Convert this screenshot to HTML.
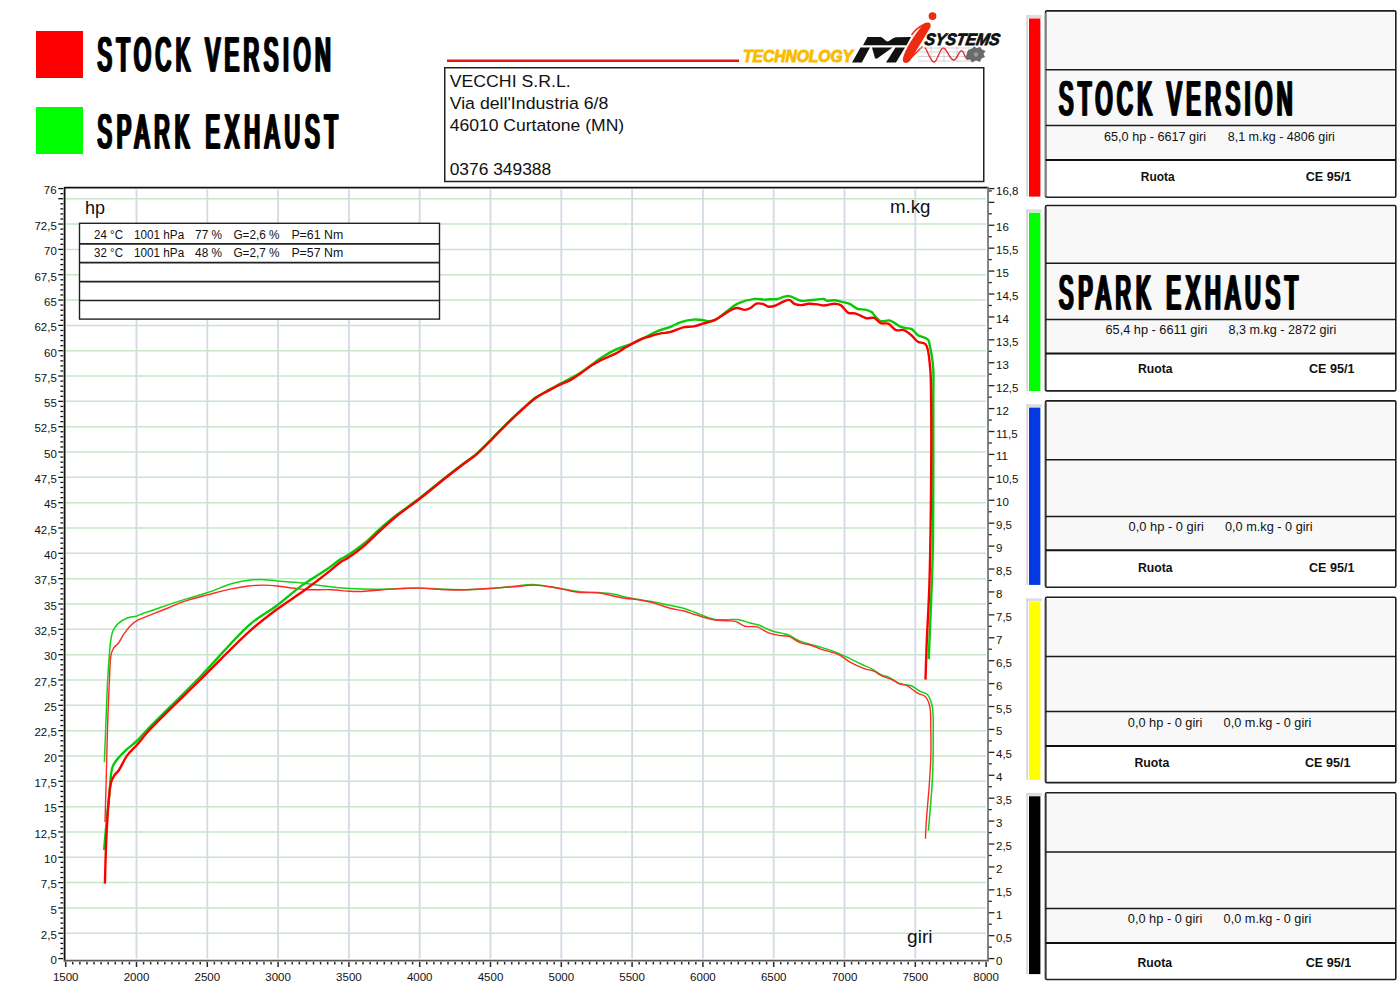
<!DOCTYPE html>
<html><head><meta charset="utf-8"><title>Dyno chart</title>
<style>
html,body{margin:0;padding:0;background:#fff;width:1400px;height:1000px;overflow:hidden}
svg{display:block}
text{font-family:"Liberation Sans",sans-serif}
</style></head><body>
<svg width="1400" height="1000" viewBox="0 0 1400 1000">
<rect x="0" y="0" width="1400" height="1000" fill="#fff"/>

<rect x="36" y="31" width="47" height="47" fill="#fe0000"/>
<rect x="36" y="107" width="47" height="47" fill="#00ff00"/>
<text transform="translate(96.40,71.45) scale(0.44,1)" font-size="48.8" stroke="#000" stroke-width="1.1" vector-effect="non-scaling-stroke" textLength="530.0" lengthAdjust="spacing" fill="#000">STOCK VERSION</text><text transform="translate(97.50,71.45) scale(0.44,1)" font-size="48.8" stroke="#000" stroke-width="1.1" vector-effect="non-scaling-stroke" textLength="530.0" lengthAdjust="spacing" fill="#000">STOCK VERSION</text><text transform="translate(98.60,71.45) scale(0.44,1)" font-size="48.8" stroke="#000" stroke-width="1.1" vector-effect="non-scaling-stroke" textLength="530.0" lengthAdjust="spacing" fill="#000">STOCK VERSION</text>
<text transform="translate(96.40,147.95) scale(0.44,1)" font-size="48.8" stroke="#000" stroke-width="1.1" vector-effect="non-scaling-stroke" textLength="545.9" lengthAdjust="spacing" fill="#000">SPARK EXHAUST</text><text transform="translate(97.50,147.95) scale(0.44,1)" font-size="48.8" stroke="#000" stroke-width="1.1" vector-effect="non-scaling-stroke" textLength="545.9" lengthAdjust="spacing" fill="#000">SPARK EXHAUST</text><text transform="translate(98.60,147.95) scale(0.44,1)" font-size="48.8" stroke="#000" stroke-width="1.1" vector-effect="non-scaling-stroke" textLength="545.9" lengthAdjust="spacing" fill="#000">SPARK EXHAUST</text>
<rect x="447" y="59.5" width="292" height="2.5" fill="#ee1111"/>
<rect x="444.75" y="67.75" width="539" height="113.75" fill="#fff" stroke="#222" stroke-width="1.5"/>
<text x="449.7" y="87" font-size="17.4" textLength="121" lengthAdjust="spacingAndGlyphs" fill="#111">VECCHI S.R.L.</text>
<text x="449.7" y="109" font-size="17.4" textLength="158.7" lengthAdjust="spacingAndGlyphs" fill="#111">Via dell'Industria 6/8</text>
<text x="449.7" y="131" font-size="17.4" textLength="174.5" lengthAdjust="spacingAndGlyphs" fill="#111">46010 Curtatone (MN)</text>
<text x="449.7" y="175" font-size="17.4" textLength="101.5" lengthAdjust="spacingAndGlyphs" fill="#111">0376 349388</text>
<g>
<text x="743" y="61.8" font-size="16" font-weight="bold" font-style="italic" fill="#f7bd00" stroke="#f7bd00" stroke-width="1" textLength="110" lengthAdjust="spacingAndGlyphs">TECHNOLOGY</text>
<path d="M867.5 37 L880.5 37 C883 37 885.5 41.5 887.5 41.5 C890 41.5 893 37.3 896 37.3 L911 37 L906.5 45.3 L863 45.3 Z" fill="#111"/>
<path d="M860.5 47.6 L870 47.6 L861.8 62.5 L852 62.5 Z" fill="#111"/>
<path d="M872 47.6 L892.5 47.6 L877.5 58.2 C876.5 59 875 58.8 874.8 57.5 Z" fill="#111"/>
<path d="M895.5 47.6 L905 47.6 L896 62.5 L886 62.5 Z" fill="#111"/>
<path d="M924.5 23.2 C928.5 21.2 932 23 930.3 27.5 L911 59.2 C908.8 63.8 903.2 64.2 902.8 60.3 C902.8 53.5 913.5 35 924.5 23.2 Z" fill="#ee2a10"/>
<path d="M911.5 35 C915 30 920 26 926 23.5" stroke="#ee2a10" stroke-width="1.4" fill="none"/>
<path d="M906.5 62 C911 58 917 52 922.5 46.5" stroke="#ee2a10" stroke-width="1.4" fill="none"/>
<circle cx="932.5" cy="16.1" r="3.9" fill="#ee2a10"/>
<text transform="translate(922,45) skewX(-10)" x="2" y="0" font-size="16.5" font-weight="bold" font-style="italic" fill="#111" stroke="#111" stroke-width="0.8" textLength="75" lengthAdjust="spacingAndGlyphs">SYSTEMS</text>
<g stroke="#c8c8c8" stroke-width="0.8">
<line x1="918" y1="48" x2="972" y2="48"/><line x1="918" y1="52" x2="972" y2="52"/><line x1="918" y1="56.5" x2="972" y2="56.5"/><line x1="918" y1="61" x2="972" y2="61"/>
<line x1="931" y1="46" x2="931" y2="62"/><line x1="944" y1="46" x2="944" y2="62"/><line x1="957" y1="46" x2="957" y2="62"/>
</g>
<path d="M925 47.5 C928 52 931 62 934 62 C937.5 62 940 47.5 943.3 47.8 C947 48 949.5 60 953.6 60 C957 60 959 50.5 961.6 50.7 C964 51 965 58.5 966.5 58.5 C968 58.5 969 53 971 53" fill="none" stroke="#e8202a" stroke-width="1.3"/>
<path d="M966 56 L968 50 L972 48.5 L974 46.5 L977 48 L980 46.8 L982 49.5 L985.5 51 L983.5 54 L985 57 L981.5 58.5 L980 62 L976 60.5 L972 62.5 L970 59.5 L966.5 60 Z" fill="#6a6a6a"/>
<circle cx="976" cy="54.5" r="2.2" fill="#9a9a9a"/>
</g>
<g stroke="#c9e5c9" stroke-width="1.5"><line x1="66" y1="933.27" x2="986" y2="933.27"/><line x1="66" y1="907.94" x2="986" y2="907.94"/><line x1="66" y1="882.61" x2="986" y2="882.61"/><line x1="66" y1="857.28" x2="986" y2="857.28"/><line x1="66" y1="831.96" x2="986" y2="831.96"/><line x1="66" y1="806.63" x2="986" y2="806.63"/><line x1="66" y1="781.30" x2="986" y2="781.30"/><line x1="66" y1="755.97" x2="986" y2="755.97"/><line x1="66" y1="730.64" x2="986" y2="730.64"/><line x1="66" y1="705.31" x2="986" y2="705.31"/><line x1="66" y1="679.98" x2="986" y2="679.98"/><line x1="66" y1="654.65" x2="986" y2="654.65"/><line x1="66" y1="629.32" x2="986" y2="629.32"/><line x1="66" y1="603.99" x2="986" y2="603.99"/><line x1="66" y1="578.67" x2="986" y2="578.67"/><line x1="66" y1="553.34" x2="986" y2="553.34"/><line x1="66" y1="528.01" x2="986" y2="528.01"/><line x1="66" y1="502.68" x2="986" y2="502.68"/><line x1="66" y1="477.35" x2="986" y2="477.35"/><line x1="66" y1="452.02" x2="986" y2="452.02"/><line x1="66" y1="426.69" x2="986" y2="426.69"/><line x1="66" y1="401.36" x2="986" y2="401.36"/><line x1="66" y1="376.03" x2="986" y2="376.03"/><line x1="66" y1="350.71" x2="986" y2="350.71"/><line x1="66" y1="325.38" x2="986" y2="325.38"/><line x1="66" y1="300.05" x2="986" y2="300.05"/><line x1="66" y1="274.72" x2="986" y2="274.72"/><line x1="66" y1="249.39" x2="986" y2="249.39"/><line x1="66" y1="224.06" x2="986" y2="224.06"/><line x1="66" y1="198.73" x2="986" y2="198.73"/></g>
<g stroke="#d3dce5" stroke-width="1.9"><line x1="136.50" y1="189.5" x2="136.50" y2="958.5"/><line x1="207.30" y1="189.5" x2="207.30" y2="958.5"/><line x1="278.10" y1="189.5" x2="278.10" y2="958.5"/><line x1="348.90" y1="189.5" x2="348.90" y2="958.5"/><line x1="419.70" y1="189.5" x2="419.70" y2="958.5"/><line x1="490.50" y1="189.5" x2="490.50" y2="958.5"/><line x1="561.30" y1="189.5" x2="561.30" y2="958.5"/><line x1="632.10" y1="189.5" x2="632.10" y2="958.5"/><line x1="702.90" y1="189.5" x2="702.90" y2="958.5"/><line x1="773.70" y1="189.5" x2="773.70" y2="958.5"/><line x1="844.50" y1="189.5" x2="844.50" y2="958.5"/><line x1="915.30" y1="189.5" x2="915.30" y2="958.5"/></g>
<g stroke="#111" stroke-width="1.3"><line x1="58.3" y1="958.60" x2="63.2" y2="958.60"/><line x1="60.4" y1="953.53" x2="63.2" y2="953.53"/><line x1="60.4" y1="948.47" x2="63.2" y2="948.47"/><line x1="60.4" y1="943.40" x2="63.2" y2="943.40"/><line x1="60.4" y1="938.34" x2="63.2" y2="938.34"/><line x1="58.3" y1="933.27" x2="63.2" y2="933.27"/><line x1="60.4" y1="928.21" x2="63.2" y2="928.21"/><line x1="60.4" y1="923.14" x2="63.2" y2="923.14"/><line x1="60.4" y1="918.07" x2="63.2" y2="918.07"/><line x1="60.4" y1="913.01" x2="63.2" y2="913.01"/><line x1="58.3" y1="907.94" x2="63.2" y2="907.94"/><line x1="60.4" y1="902.88" x2="63.2" y2="902.88"/><line x1="60.4" y1="897.81" x2="63.2" y2="897.81"/><line x1="60.4" y1="892.74" x2="63.2" y2="892.74"/><line x1="60.4" y1="887.68" x2="63.2" y2="887.68"/><line x1="58.3" y1="882.61" x2="63.2" y2="882.61"/><line x1="60.4" y1="877.55" x2="63.2" y2="877.55"/><line x1="60.4" y1="872.48" x2="63.2" y2="872.48"/><line x1="60.4" y1="867.42" x2="63.2" y2="867.42"/><line x1="60.4" y1="862.35" x2="63.2" y2="862.35"/><line x1="58.3" y1="857.28" x2="63.2" y2="857.28"/><line x1="60.4" y1="852.22" x2="63.2" y2="852.22"/><line x1="60.4" y1="847.15" x2="63.2" y2="847.15"/><line x1="60.4" y1="842.09" x2="63.2" y2="842.09"/><line x1="60.4" y1="837.02" x2="63.2" y2="837.02"/><line x1="58.3" y1="831.96" x2="63.2" y2="831.96"/><line x1="60.4" y1="826.89" x2="63.2" y2="826.89"/><line x1="60.4" y1="821.82" x2="63.2" y2="821.82"/><line x1="60.4" y1="816.76" x2="63.2" y2="816.76"/><line x1="60.4" y1="811.69" x2="63.2" y2="811.69"/><line x1="58.3" y1="806.63" x2="63.2" y2="806.63"/><line x1="60.4" y1="801.56" x2="63.2" y2="801.56"/><line x1="60.4" y1="796.49" x2="63.2" y2="796.49"/><line x1="60.4" y1="791.43" x2="63.2" y2="791.43"/><line x1="60.4" y1="786.36" x2="63.2" y2="786.36"/><line x1="58.3" y1="781.30" x2="63.2" y2="781.30"/><line x1="60.4" y1="776.23" x2="63.2" y2="776.23"/><line x1="60.4" y1="771.17" x2="63.2" y2="771.17"/><line x1="60.4" y1="766.10" x2="63.2" y2="766.10"/><line x1="60.4" y1="761.03" x2="63.2" y2="761.03"/><line x1="58.3" y1="755.97" x2="63.2" y2="755.97"/><line x1="60.4" y1="750.90" x2="63.2" y2="750.90"/><line x1="60.4" y1="745.84" x2="63.2" y2="745.84"/><line x1="60.4" y1="740.77" x2="63.2" y2="740.77"/><line x1="60.4" y1="735.71" x2="63.2" y2="735.71"/><line x1="58.3" y1="730.64" x2="63.2" y2="730.64"/><line x1="60.4" y1="725.57" x2="63.2" y2="725.57"/><line x1="60.4" y1="720.51" x2="63.2" y2="720.51"/><line x1="60.4" y1="715.44" x2="63.2" y2="715.44"/><line x1="60.4" y1="710.38" x2="63.2" y2="710.38"/><line x1="58.3" y1="705.31" x2="63.2" y2="705.31"/><line x1="60.4" y1="700.24" x2="63.2" y2="700.24"/><line x1="60.4" y1="695.18" x2="63.2" y2="695.18"/><line x1="60.4" y1="690.11" x2="63.2" y2="690.11"/><line x1="60.4" y1="685.05" x2="63.2" y2="685.05"/><line x1="58.3" y1="679.98" x2="63.2" y2="679.98"/><line x1="60.4" y1="674.92" x2="63.2" y2="674.92"/><line x1="60.4" y1="669.85" x2="63.2" y2="669.85"/><line x1="60.4" y1="664.78" x2="63.2" y2="664.78"/><line x1="60.4" y1="659.72" x2="63.2" y2="659.72"/><line x1="58.3" y1="654.65" x2="63.2" y2="654.65"/><line x1="60.4" y1="649.59" x2="63.2" y2="649.59"/><line x1="60.4" y1="644.52" x2="63.2" y2="644.52"/><line x1="60.4" y1="639.46" x2="63.2" y2="639.46"/><line x1="60.4" y1="634.39" x2="63.2" y2="634.39"/><line x1="58.3" y1="629.32" x2="63.2" y2="629.32"/><line x1="60.4" y1="624.26" x2="63.2" y2="624.26"/><line x1="60.4" y1="619.19" x2="63.2" y2="619.19"/><line x1="60.4" y1="614.13" x2="63.2" y2="614.13"/><line x1="60.4" y1="609.06" x2="63.2" y2="609.06"/><line x1="58.3" y1="603.99" x2="63.2" y2="603.99"/><line x1="60.4" y1="598.93" x2="63.2" y2="598.93"/><line x1="60.4" y1="593.86" x2="63.2" y2="593.86"/><line x1="60.4" y1="588.80" x2="63.2" y2="588.80"/><line x1="60.4" y1="583.73" x2="63.2" y2="583.73"/><line x1="58.3" y1="578.67" x2="63.2" y2="578.67"/><line x1="60.4" y1="573.60" x2="63.2" y2="573.60"/><line x1="60.4" y1="568.53" x2="63.2" y2="568.53"/><line x1="60.4" y1="563.47" x2="63.2" y2="563.47"/><line x1="60.4" y1="558.40" x2="63.2" y2="558.40"/><line x1="58.3" y1="553.34" x2="63.2" y2="553.34"/><line x1="60.4" y1="548.27" x2="63.2" y2="548.27"/><line x1="60.4" y1="543.21" x2="63.2" y2="543.21"/><line x1="60.4" y1="538.14" x2="63.2" y2="538.14"/><line x1="60.4" y1="533.07" x2="63.2" y2="533.07"/><line x1="58.3" y1="528.01" x2="63.2" y2="528.01"/><line x1="60.4" y1="522.94" x2="63.2" y2="522.94"/><line x1="60.4" y1="517.88" x2="63.2" y2="517.88"/><line x1="60.4" y1="512.81" x2="63.2" y2="512.81"/><line x1="60.4" y1="507.74" x2="63.2" y2="507.74"/><line x1="58.3" y1="502.68" x2="63.2" y2="502.68"/><line x1="60.4" y1="497.61" x2="63.2" y2="497.61"/><line x1="60.4" y1="492.55" x2="63.2" y2="492.55"/><line x1="60.4" y1="487.48" x2="63.2" y2="487.48"/><line x1="60.4" y1="482.42" x2="63.2" y2="482.42"/><line x1="58.3" y1="477.35" x2="63.2" y2="477.35"/><line x1="60.4" y1="472.28" x2="63.2" y2="472.28"/><line x1="60.4" y1="467.22" x2="63.2" y2="467.22"/><line x1="60.4" y1="462.15" x2="63.2" y2="462.15"/><line x1="60.4" y1="457.09" x2="63.2" y2="457.09"/><line x1="58.3" y1="452.02" x2="63.2" y2="452.02"/><line x1="60.4" y1="446.96" x2="63.2" y2="446.96"/><line x1="60.4" y1="441.89" x2="63.2" y2="441.89"/><line x1="60.4" y1="436.82" x2="63.2" y2="436.82"/><line x1="60.4" y1="431.76" x2="63.2" y2="431.76"/><line x1="58.3" y1="426.69" x2="63.2" y2="426.69"/><line x1="60.4" y1="421.63" x2="63.2" y2="421.63"/><line x1="60.4" y1="416.56" x2="63.2" y2="416.56"/><line x1="60.4" y1="411.49" x2="63.2" y2="411.49"/><line x1="60.4" y1="406.43" x2="63.2" y2="406.43"/><line x1="58.3" y1="401.36" x2="63.2" y2="401.36"/><line x1="60.4" y1="396.30" x2="63.2" y2="396.30"/><line x1="60.4" y1="391.23" x2="63.2" y2="391.23"/><line x1="60.4" y1="386.17" x2="63.2" y2="386.17"/><line x1="60.4" y1="381.10" x2="63.2" y2="381.10"/><line x1="58.3" y1="376.03" x2="63.2" y2="376.03"/><line x1="60.4" y1="370.97" x2="63.2" y2="370.97"/><line x1="60.4" y1="365.90" x2="63.2" y2="365.90"/><line x1="60.4" y1="360.84" x2="63.2" y2="360.84"/><line x1="60.4" y1="355.77" x2="63.2" y2="355.77"/><line x1="58.3" y1="350.71" x2="63.2" y2="350.71"/><line x1="60.4" y1="345.64" x2="63.2" y2="345.64"/><line x1="60.4" y1="340.57" x2="63.2" y2="340.57"/><line x1="60.4" y1="335.51" x2="63.2" y2="335.51"/><line x1="60.4" y1="330.44" x2="63.2" y2="330.44"/><line x1="58.3" y1="325.38" x2="63.2" y2="325.38"/><line x1="60.4" y1="320.31" x2="63.2" y2="320.31"/><line x1="60.4" y1="315.24" x2="63.2" y2="315.24"/><line x1="60.4" y1="310.18" x2="63.2" y2="310.18"/><line x1="60.4" y1="305.11" x2="63.2" y2="305.11"/><line x1="58.3" y1="300.05" x2="63.2" y2="300.05"/><line x1="60.4" y1="294.98" x2="63.2" y2="294.98"/><line x1="60.4" y1="289.92" x2="63.2" y2="289.92"/><line x1="60.4" y1="284.85" x2="63.2" y2="284.85"/><line x1="60.4" y1="279.78" x2="63.2" y2="279.78"/><line x1="58.3" y1="274.72" x2="63.2" y2="274.72"/><line x1="60.4" y1="269.65" x2="63.2" y2="269.65"/><line x1="60.4" y1="264.59" x2="63.2" y2="264.59"/><line x1="60.4" y1="259.52" x2="63.2" y2="259.52"/><line x1="60.4" y1="254.46" x2="63.2" y2="254.46"/><line x1="58.3" y1="249.39" x2="63.2" y2="249.39"/><line x1="60.4" y1="244.32" x2="63.2" y2="244.32"/><line x1="60.4" y1="239.26" x2="63.2" y2="239.26"/><line x1="60.4" y1="234.19" x2="63.2" y2="234.19"/><line x1="60.4" y1="229.13" x2="63.2" y2="229.13"/><line x1="58.3" y1="224.06" x2="63.2" y2="224.06"/><line x1="60.4" y1="218.99" x2="63.2" y2="218.99"/><line x1="60.4" y1="213.93" x2="63.2" y2="213.93"/><line x1="60.4" y1="208.86" x2="63.2" y2="208.86"/><line x1="60.4" y1="203.80" x2="63.2" y2="203.80"/><line x1="58.3" y1="198.73" x2="63.2" y2="198.73"/><line x1="60.4" y1="193.67" x2="63.2" y2="193.67"/><line x1="58.3" y1="188.60" x2="63.2" y2="188.60"/></g>
<g font-size="11.5" text-anchor="end" fill="#111"><text x="56.8" y="964.40">0</text><text x="56.8" y="939.07">2,5</text><text x="56.8" y="913.74">5</text><text x="56.8" y="888.41">7,5</text><text x="56.8" y="863.08">10</text><text x="56.8" y="837.76">12,5</text><text x="56.8" y="812.43">15</text><text x="56.8" y="787.10">17,5</text><text x="56.8" y="761.77">20</text><text x="56.8" y="736.44">22,5</text><text x="56.8" y="711.11">25</text><text x="56.8" y="685.78">27,5</text><text x="56.8" y="660.45">30</text><text x="56.8" y="635.12">32,5</text><text x="56.8" y="609.79">35</text><text x="56.8" y="584.47">37,5</text><text x="56.8" y="559.14">40</text><text x="56.8" y="533.81">42,5</text><text x="56.8" y="508.48">45</text><text x="56.8" y="483.15">47,5</text><text x="56.8" y="457.82">50</text><text x="56.8" y="432.49">52,5</text><text x="56.8" y="407.16">55</text><text x="56.8" y="381.83">57,5</text><text x="56.8" y="356.51">60</text><text x="56.8" y="331.18">62,5</text><text x="56.8" y="305.85">65</text><text x="56.8" y="280.52">67,5</text><text x="56.8" y="255.19">70</text><text x="56.8" y="229.86">72,5</text><text x="56.6" y="194.10">76</text></g>
<g stroke="#222" stroke-width="1.3"><line x1="988" y1="958.60" x2="994.4" y2="958.60"/><line x1="988" y1="947.14" x2="991.8" y2="947.14"/><line x1="988" y1="935.68" x2="994.4" y2="935.68"/><line x1="988" y1="924.23" x2="991.8" y2="924.23"/><line x1="988" y1="912.77" x2="994.4" y2="912.77"/><line x1="988" y1="901.31" x2="991.8" y2="901.31"/><line x1="988" y1="889.85" x2="994.4" y2="889.85"/><line x1="988" y1="878.39" x2="991.8" y2="878.39"/><line x1="988" y1="866.93" x2="994.4" y2="866.93"/><line x1="988" y1="855.48" x2="991.8" y2="855.48"/><line x1="988" y1="844.02" x2="994.4" y2="844.02"/><line x1="988" y1="832.56" x2="991.8" y2="832.56"/><line x1="988" y1="821.10" x2="994.4" y2="821.10"/><line x1="988" y1="809.64" x2="991.8" y2="809.64"/><line x1="988" y1="798.18" x2="994.4" y2="798.18"/><line x1="988" y1="786.73" x2="991.8" y2="786.73"/><line x1="988" y1="775.27" x2="994.4" y2="775.27"/><line x1="988" y1="763.81" x2="991.8" y2="763.81"/><line x1="988" y1="752.35" x2="994.4" y2="752.35"/><line x1="988" y1="740.89" x2="991.8" y2="740.89"/><line x1="988" y1="729.43" x2="994.4" y2="729.43"/><line x1="988" y1="717.98" x2="991.8" y2="717.98"/><line x1="988" y1="706.52" x2="994.4" y2="706.52"/><line x1="988" y1="695.06" x2="991.8" y2="695.06"/><line x1="988" y1="683.60" x2="994.4" y2="683.60"/><line x1="988" y1="672.14" x2="991.8" y2="672.14"/><line x1="988" y1="660.68" x2="994.4" y2="660.68"/><line x1="988" y1="649.23" x2="991.8" y2="649.23"/><line x1="988" y1="637.77" x2="994.4" y2="637.77"/><line x1="988" y1="626.31" x2="991.8" y2="626.31"/><line x1="988" y1="614.85" x2="994.4" y2="614.85"/><line x1="988" y1="603.39" x2="991.8" y2="603.39"/><line x1="988" y1="591.93" x2="994.4" y2="591.93"/><line x1="988" y1="580.48" x2="991.8" y2="580.48"/><line x1="988" y1="569.02" x2="994.4" y2="569.02"/><line x1="988" y1="557.56" x2="991.8" y2="557.56"/><line x1="988" y1="546.10" x2="994.4" y2="546.10"/><line x1="988" y1="534.64" x2="991.8" y2="534.64"/><line x1="988" y1="523.18" x2="994.4" y2="523.18"/><line x1="988" y1="511.73" x2="991.8" y2="511.73"/><line x1="988" y1="500.27" x2="994.4" y2="500.27"/><line x1="988" y1="488.81" x2="991.8" y2="488.81"/><line x1="988" y1="477.35" x2="994.4" y2="477.35"/><line x1="988" y1="465.89" x2="991.8" y2="465.89"/><line x1="988" y1="454.43" x2="994.4" y2="454.43"/><line x1="988" y1="442.98" x2="991.8" y2="442.98"/><line x1="988" y1="431.52" x2="994.4" y2="431.52"/><line x1="988" y1="420.06" x2="991.8" y2="420.06"/><line x1="988" y1="408.60" x2="994.4" y2="408.60"/><line x1="988" y1="397.14" x2="991.8" y2="397.14"/><line x1="988" y1="385.68" x2="994.4" y2="385.68"/><line x1="988" y1="374.23" x2="991.8" y2="374.23"/><line x1="988" y1="362.77" x2="994.4" y2="362.77"/><line x1="988" y1="351.31" x2="991.8" y2="351.31"/><line x1="988" y1="339.85" x2="994.4" y2="339.85"/><line x1="988" y1="328.39" x2="991.8" y2="328.39"/><line x1="988" y1="316.93" x2="994.4" y2="316.93"/><line x1="988" y1="305.48" x2="991.8" y2="305.48"/><line x1="988" y1="294.02" x2="994.4" y2="294.02"/><line x1="988" y1="282.56" x2="991.8" y2="282.56"/><line x1="988" y1="271.10" x2="994.4" y2="271.10"/><line x1="988" y1="259.64" x2="991.8" y2="259.64"/><line x1="988" y1="248.18" x2="994.4" y2="248.18"/><line x1="988" y1="236.73" x2="991.8" y2="236.73"/><line x1="988" y1="225.27" x2="994.4" y2="225.27"/><line x1="988" y1="213.81" x2="991.8" y2="213.81"/><line x1="988" y1="202.35" x2="994.4" y2="202.35"/><line x1="988" y1="190.89" x2="991.8" y2="190.89"/><line x1="988" y1="188.60" x2="994.4" y2="188.60"/></g>
<g font-size="11.5" fill="#111"><text x="996" y="964.60">0</text><text x="996" y="941.68">0,5</text><text x="996" y="918.77">1</text><text x="996" y="895.85">1,5</text><text x="996" y="872.93">2</text><text x="996" y="850.02">2,5</text><text x="996" y="827.10">3</text><text x="996" y="804.18">3,5</text><text x="996" y="781.27">4</text><text x="996" y="758.35">4,5</text><text x="996" y="735.43">5</text><text x="996" y="712.52">5,5</text><text x="996" y="689.60">6</text><text x="996" y="666.68">6,5</text><text x="996" y="643.77">7</text><text x="996" y="620.85">7,5</text><text x="996" y="597.93">8</text><text x="996" y="575.02">8,5</text><text x="996" y="552.10">9</text><text x="996" y="529.18">9,5</text><text x="996" y="506.27">10</text><text x="996" y="483.35">10,5</text><text x="996" y="460.43">11</text><text x="996" y="437.52">11,5</text><text x="996" y="414.60">12</text><text x="996" y="391.68">12,5</text><text x="996" y="368.77">13</text><text x="996" y="345.85">13,5</text><text x="996" y="322.93">14</text><text x="996" y="300.02">14,5</text><text x="996" y="277.10">15</text><text x="996" y="254.18">15,5</text><text x="996" y="231.27">16</text><text x="996" y="194.60">16,8</text></g>
<g stroke="#2a2a2a" stroke-width="1.5"><line x1="65.70" y1="961.9" x2="65.70" y2="967"/><line x1="72.78" y1="961.9" x2="72.78" y2="964.5"/><line x1="79.86" y1="961.9" x2="79.86" y2="964.5"/><line x1="86.94" y1="961.9" x2="86.94" y2="964.5"/><line x1="94.02" y1="961.9" x2="94.02" y2="964.5"/><line x1="101.10" y1="961.9" x2="101.10" y2="964.5"/><line x1="108.18" y1="961.9" x2="108.18" y2="964.5"/><line x1="115.26" y1="961.9" x2="115.26" y2="964.5"/><line x1="122.34" y1="961.9" x2="122.34" y2="964.5"/><line x1="129.42" y1="961.9" x2="129.42" y2="964.5"/><line x1="136.50" y1="961.9" x2="136.50" y2="967"/><line x1="143.58" y1="961.9" x2="143.58" y2="964.5"/><line x1="150.66" y1="961.9" x2="150.66" y2="964.5"/><line x1="157.74" y1="961.9" x2="157.74" y2="964.5"/><line x1="164.82" y1="961.9" x2="164.82" y2="964.5"/><line x1="171.90" y1="961.9" x2="171.90" y2="964.5"/><line x1="178.98" y1="961.9" x2="178.98" y2="964.5"/><line x1="186.06" y1="961.9" x2="186.06" y2="964.5"/><line x1="193.14" y1="961.9" x2="193.14" y2="964.5"/><line x1="200.22" y1="961.9" x2="200.22" y2="964.5"/><line x1="207.30" y1="961.9" x2="207.30" y2="967"/><line x1="214.38" y1="961.9" x2="214.38" y2="964.5"/><line x1="221.46" y1="961.9" x2="221.46" y2="964.5"/><line x1="228.54" y1="961.9" x2="228.54" y2="964.5"/><line x1="235.62" y1="961.9" x2="235.62" y2="964.5"/><line x1="242.70" y1="961.9" x2="242.70" y2="964.5"/><line x1="249.78" y1="961.9" x2="249.78" y2="964.5"/><line x1="256.86" y1="961.9" x2="256.86" y2="964.5"/><line x1="263.94" y1="961.9" x2="263.94" y2="964.5"/><line x1="271.02" y1="961.9" x2="271.02" y2="964.5"/><line x1="278.10" y1="961.9" x2="278.10" y2="967"/><line x1="285.18" y1="961.9" x2="285.18" y2="964.5"/><line x1="292.26" y1="961.9" x2="292.26" y2="964.5"/><line x1="299.34" y1="961.9" x2="299.34" y2="964.5"/><line x1="306.42" y1="961.9" x2="306.42" y2="964.5"/><line x1="313.50" y1="961.9" x2="313.50" y2="964.5"/><line x1="320.58" y1="961.9" x2="320.58" y2="964.5"/><line x1="327.66" y1="961.9" x2="327.66" y2="964.5"/><line x1="334.74" y1="961.9" x2="334.74" y2="964.5"/><line x1="341.82" y1="961.9" x2="341.82" y2="964.5"/><line x1="348.90" y1="961.9" x2="348.90" y2="967"/><line x1="355.98" y1="961.9" x2="355.98" y2="964.5"/><line x1="363.06" y1="961.9" x2="363.06" y2="964.5"/><line x1="370.14" y1="961.9" x2="370.14" y2="964.5"/><line x1="377.22" y1="961.9" x2="377.22" y2="964.5"/><line x1="384.30" y1="961.9" x2="384.30" y2="964.5"/><line x1="391.38" y1="961.9" x2="391.38" y2="964.5"/><line x1="398.46" y1="961.9" x2="398.46" y2="964.5"/><line x1="405.54" y1="961.9" x2="405.54" y2="964.5"/><line x1="412.62" y1="961.9" x2="412.62" y2="964.5"/><line x1="419.70" y1="961.9" x2="419.70" y2="967"/><line x1="426.78" y1="961.9" x2="426.78" y2="964.5"/><line x1="433.86" y1="961.9" x2="433.86" y2="964.5"/><line x1="440.94" y1="961.9" x2="440.94" y2="964.5"/><line x1="448.02" y1="961.9" x2="448.02" y2="964.5"/><line x1="455.10" y1="961.9" x2="455.10" y2="964.5"/><line x1="462.18" y1="961.9" x2="462.18" y2="964.5"/><line x1="469.26" y1="961.9" x2="469.26" y2="964.5"/><line x1="476.34" y1="961.9" x2="476.34" y2="964.5"/><line x1="483.42" y1="961.9" x2="483.42" y2="964.5"/><line x1="490.50" y1="961.9" x2="490.50" y2="967"/><line x1="497.58" y1="961.9" x2="497.58" y2="964.5"/><line x1="504.66" y1="961.9" x2="504.66" y2="964.5"/><line x1="511.74" y1="961.9" x2="511.74" y2="964.5"/><line x1="518.82" y1="961.9" x2="518.82" y2="964.5"/><line x1="525.90" y1="961.9" x2="525.90" y2="964.5"/><line x1="532.98" y1="961.9" x2="532.98" y2="964.5"/><line x1="540.06" y1="961.9" x2="540.06" y2="964.5"/><line x1="547.14" y1="961.9" x2="547.14" y2="964.5"/><line x1="554.22" y1="961.9" x2="554.22" y2="964.5"/><line x1="561.30" y1="961.9" x2="561.30" y2="967"/><line x1="568.38" y1="961.9" x2="568.38" y2="964.5"/><line x1="575.46" y1="961.9" x2="575.46" y2="964.5"/><line x1="582.54" y1="961.9" x2="582.54" y2="964.5"/><line x1="589.62" y1="961.9" x2="589.62" y2="964.5"/><line x1="596.70" y1="961.9" x2="596.70" y2="964.5"/><line x1="603.78" y1="961.9" x2="603.78" y2="964.5"/><line x1="610.86" y1="961.9" x2="610.86" y2="964.5"/><line x1="617.94" y1="961.9" x2="617.94" y2="964.5"/><line x1="625.02" y1="961.9" x2="625.02" y2="964.5"/><line x1="632.10" y1="961.9" x2="632.10" y2="967"/><line x1="639.18" y1="961.9" x2="639.18" y2="964.5"/><line x1="646.26" y1="961.9" x2="646.26" y2="964.5"/><line x1="653.34" y1="961.9" x2="653.34" y2="964.5"/><line x1="660.42" y1="961.9" x2="660.42" y2="964.5"/><line x1="667.50" y1="961.9" x2="667.50" y2="964.5"/><line x1="674.58" y1="961.9" x2="674.58" y2="964.5"/><line x1="681.66" y1="961.9" x2="681.66" y2="964.5"/><line x1="688.74" y1="961.9" x2="688.74" y2="964.5"/><line x1="695.82" y1="961.9" x2="695.82" y2="964.5"/><line x1="702.90" y1="961.9" x2="702.90" y2="967"/><line x1="709.98" y1="961.9" x2="709.98" y2="964.5"/><line x1="717.06" y1="961.9" x2="717.06" y2="964.5"/><line x1="724.14" y1="961.9" x2="724.14" y2="964.5"/><line x1="731.22" y1="961.9" x2="731.22" y2="964.5"/><line x1="738.30" y1="961.9" x2="738.30" y2="964.5"/><line x1="745.38" y1="961.9" x2="745.38" y2="964.5"/><line x1="752.46" y1="961.9" x2="752.46" y2="964.5"/><line x1="759.54" y1="961.9" x2="759.54" y2="964.5"/><line x1="766.62" y1="961.9" x2="766.62" y2="964.5"/><line x1="773.70" y1="961.9" x2="773.70" y2="967"/><line x1="780.78" y1="961.9" x2="780.78" y2="964.5"/><line x1="787.86" y1="961.9" x2="787.86" y2="964.5"/><line x1="794.94" y1="961.9" x2="794.94" y2="964.5"/><line x1="802.02" y1="961.9" x2="802.02" y2="964.5"/><line x1="809.10" y1="961.9" x2="809.10" y2="964.5"/><line x1="816.18" y1="961.9" x2="816.18" y2="964.5"/><line x1="823.26" y1="961.9" x2="823.26" y2="964.5"/><line x1="830.34" y1="961.9" x2="830.34" y2="964.5"/><line x1="837.42" y1="961.9" x2="837.42" y2="964.5"/><line x1="844.50" y1="961.9" x2="844.50" y2="967"/><line x1="851.58" y1="961.9" x2="851.58" y2="964.5"/><line x1="858.66" y1="961.9" x2="858.66" y2="964.5"/><line x1="865.74" y1="961.9" x2="865.74" y2="964.5"/><line x1="872.82" y1="961.9" x2="872.82" y2="964.5"/><line x1="879.90" y1="961.9" x2="879.90" y2="964.5"/><line x1="886.98" y1="961.9" x2="886.98" y2="964.5"/><line x1="894.06" y1="961.9" x2="894.06" y2="964.5"/><line x1="901.14" y1="961.9" x2="901.14" y2="964.5"/><line x1="908.22" y1="961.9" x2="908.22" y2="964.5"/><line x1="915.30" y1="961.9" x2="915.30" y2="967"/><line x1="922.38" y1="961.9" x2="922.38" y2="964.5"/><line x1="929.46" y1="961.9" x2="929.46" y2="964.5"/><line x1="936.54" y1="961.9" x2="936.54" y2="964.5"/><line x1="943.62" y1="961.9" x2="943.62" y2="964.5"/><line x1="950.70" y1="961.9" x2="950.70" y2="964.5"/><line x1="957.78" y1="961.9" x2="957.78" y2="964.5"/><line x1="964.86" y1="961.9" x2="964.86" y2="964.5"/><line x1="971.94" y1="961.9" x2="971.94" y2="964.5"/><line x1="979.02" y1="961.9" x2="979.02" y2="964.5"/><line x1="986.10" y1="961.9" x2="986.10" y2="967"/></g>
<g font-size="11.5" text-anchor="middle" fill="#111"><text x="65.70" y="981">1500</text><text x="136.50" y="981">2000</text><text x="207.30" y="981">2500</text><text x="278.10" y="981">3000</text><text x="348.90" y="981">3500</text><text x="419.70" y="981">4000</text><text x="490.50" y="981">4500</text><text x="561.30" y="981">5000</text><text x="632.10" y="981">5500</text><text x="702.90" y="981">6000</text><text x="773.70" y="981">6500</text><text x="844.50" y="981">7000</text><text x="915.30" y="981">7500</text><text x="986.10" y="981">8000</text></g>
<line x1="64.6" y1="187.6" x2="988.5" y2="187.6" stroke="#111" stroke-width="1.6"/>
<line x1="64.6" y1="187" x2="64.6" y2="961.5" stroke="#111" stroke-width="1.8"/>
<line x1="64" y1="960.6" x2="988.5" y2="960.6" stroke="#5a5a5a" stroke-width="1.6"/>
<line x1="988" y1="187" x2="988" y2="961.5" stroke="#777" stroke-width="1.8"/>
<text x="85" y="214" font-size="18" fill="#111">hp</text>
<text x="890" y="213.3" font-size="18" fill="#111" textLength="40.5" lengthAdjust="spacingAndGlyphs">m.kg</text>
<text x="907" y="943" font-size="18" fill="#111" textLength="25.5" lengthAdjust="spacingAndGlyphs">giri</text>
<rect x="79.5" y="223.3" width="360" height="95.8" fill="#fff" stroke="#222" stroke-width="1.4"/>
<line x1="79.5" y1="243.9" x2="439.5" y2="243.9" stroke="#222" stroke-width="1.6"/>
<line x1="79.5" y1="262.6" x2="439.5" y2="262.6" stroke="#222" stroke-width="1.6"/>
<line x1="79.5" y1="281.6" x2="439.5" y2="281.6" stroke="#222" stroke-width="1.6"/>
<line x1="79.5" y1="300.5" x2="439.5" y2="300.5" stroke="#222" stroke-width="1.6"/>
<text x="94.1" y="238.7" font-size="12.3" fill="#111" textLength="28.9" lengthAdjust="spacingAndGlyphs">24 °C</text>
<text x="134.0" y="238.7" font-size="12.3" fill="#111" textLength="50.2" lengthAdjust="spacingAndGlyphs">1001 hPa</text>
<text x="195.1" y="238.7" font-size="12.3" fill="#111" textLength="26.9" lengthAdjust="spacingAndGlyphs">77 %</text>
<text x="233.4" y="238.7" font-size="12.3" fill="#111" textLength="46.2" lengthAdjust="spacingAndGlyphs">G=2,6 %</text>
<text x="291.4" y="238.7" font-size="12.3" fill="#111" textLength="51.8" lengthAdjust="spacingAndGlyphs">P=61 Nm</text>
<text x="94.1" y="257.4" font-size="12.3" fill="#111" textLength="28.9" lengthAdjust="spacingAndGlyphs">32 °C</text>
<text x="134.0" y="257.4" font-size="12.3" fill="#111" textLength="50.2" lengthAdjust="spacingAndGlyphs">1001 hPa</text>
<text x="195.1" y="257.4" font-size="12.3" fill="#111" textLength="26.9" lengthAdjust="spacingAndGlyphs">48 %</text>
<text x="233.4" y="257.4" font-size="12.3" fill="#111" textLength="46.2" lengthAdjust="spacingAndGlyphs">G=2,7 %</text>
<text x="291.4" y="257.4" font-size="12.3" fill="#111" textLength="51.8" lengthAdjust="spacingAndGlyphs">P=57 Nm</text>
<path d="M104.40,762.20 C104.87,750.17 105.30,738.80 105.80,726.10 C106.36,711.93 106.90,694.19 107.60,681.10 C108.14,670.95 108.75,661.71 109.40,654.10 C109.87,648.52 110.19,643.84 110.90,639.60 C111.47,636.22 111.73,633.31 113.00,630.60 C114.25,627.92 116.13,625.45 118.40,623.40 C120.85,621.19 124.29,619.20 127.40,618.00 C130.31,616.88 134.11,616.93 136.40,616.20 C137.90,615.72 138.26,615.29 140.00,614.60 C144.31,612.89 155.26,609.19 162.90,606.60 C170.50,604.02 178.07,601.49 185.70,599.10 C193.31,596.72 201.02,594.85 208.60,592.30 C216.26,589.72 224.25,585.74 231.40,583.70 C237.46,581.97 243.43,580.99 248.60,580.30 C252.77,579.74 255.82,579.48 260.00,579.50 C265.13,579.53 270.98,580.40 277.10,580.90 C284.18,581.48 292.07,581.96 300.00,582.80 C308.62,583.72 318.30,585.31 326.90,586.30 C334.81,587.21 341.75,588.10 349.70,588.60 C358.38,589.15 366.96,589.33 377.00,589.30 C389.35,589.26 405.94,587.90 418.30,588.00 C428.37,588.08 436.97,589.02 445.70,589.30 C453.67,589.56 460.98,589.82 468.60,589.70 C476.21,589.58 483.80,589.16 491.40,588.60 C499.03,588.03 507.09,587.02 514.30,586.30 C520.74,585.66 526.58,584.40 532.60,584.50 C538.48,584.60 543.42,585.82 550.00,586.80 C558.66,588.09 571.25,590.90 580.00,591.80 C586.74,592.49 592.14,592.07 598.00,592.50 C603.63,592.92 609.65,593.42 614.50,594.30 C618.42,595.01 621.17,596.16 625.00,597.00 C629.54,597.99 635.00,598.83 640.00,599.70 C645.00,600.57 649.78,601.22 655.00,602.20 C660.74,603.28 667.61,604.82 673.00,606.00 C677.41,606.96 681.32,607.62 685.00,608.70 C688.25,609.66 690.79,610.77 694.00,612.00 C697.72,613.43 702.26,615.49 706.00,616.80 C709.19,617.91 711.75,618.98 715.00,619.50 C718.68,620.09 723.13,619.81 727.00,619.80 C730.62,619.79 733.88,619.07 737.50,619.50 C741.52,619.98 746.22,621.92 750.00,622.90 C753.13,623.71 755.50,623.94 758.60,625.00 C762.50,626.33 766.74,629.09 771.40,630.70 C776.64,632.51 783.56,633.06 788.60,635.00 C792.90,636.66 795.50,639.25 800.00,641.10 C805.92,643.52 815.00,645.41 821.40,647.40 C826.66,649.04 830.98,650.26 835.70,652.10 C840.52,653.98 845.52,656.46 850.00,658.60 C854.03,660.52 857.70,662.58 861.40,664.30 C864.82,665.89 868.14,666.87 871.40,668.60 C874.81,670.41 878.24,673.56 881.40,675.00 C883.91,676.14 886.00,676.00 888.60,677.10 C892.04,678.56 896.07,682.17 900.00,683.60 C903.69,684.95 907.99,684.32 911.40,685.70 C914.62,687.00 917.20,689.92 920.00,691.40 C922.42,692.68 925.20,692.45 927.10,694.30 C929.52,696.66 930.98,700.80 932.10,705.70 C933.90,713.60 933.12,726.55 933.20,738.00 C933.30,750.99 933.01,766.65 932.40,779.60 C931.86,790.97 930.74,802.29 930.00,811.60 C929.43,818.81 928.93,824.40 928.40,830.80" fill="none" stroke="#14d214" stroke-width="1.5" stroke-linejoin="round" stroke-linecap="butt"/>
<path d="M105.00,822.00 C105.40,808.00 105.79,794.87 106.20,780.00 C106.66,763.15 107.03,743.25 107.60,726.10 C108.12,710.42 108.70,694.19 109.40,681.10 C109.94,670.95 109.82,659.92 111.20,654.10 C111.90,651.15 112.66,649.54 113.90,647.70 C115.09,645.93 116.94,645.07 118.40,643.20 C120.27,640.80 121.76,637.13 123.80,634.20 C125.94,631.13 128.43,627.69 131.00,625.20 C133.27,623.00 136.56,620.71 138.20,619.80 C138.96,619.38 139.06,619.47 140.00,619.10 C143.34,617.79 155.28,613.04 162.90,610.00 C170.51,606.97 178.02,603.48 185.70,600.90 C193.26,598.36 200.96,596.60 208.60,594.60 C216.20,592.61 224.31,590.38 231.40,588.90 C237.51,587.62 243.07,586.63 248.60,586.00 C253.70,585.42 258.56,585.09 263.40,585.10 C268.06,585.11 272.28,585.52 277.10,586.00 C282.52,586.54 288.83,587.67 294.30,588.30 C299.28,588.88 303.27,589.44 308.60,589.70 C315.31,590.03 324.22,589.39 331.40,589.70 C337.84,589.98 344.31,591.02 349.70,591.30 C353.94,591.52 356.99,591.63 361.10,591.50 C365.96,591.34 371.21,590.64 377.00,590.20 C383.96,589.67 392.77,588.95 400.00,588.60 C406.44,588.29 411.59,588.00 418.30,588.10 C426.52,588.23 438.13,589.40 445.70,589.70 C451.05,589.91 454.37,590.07 459.40,590.00 C465.57,589.92 472.27,589.45 480.00,589.00 C489.99,588.42 504.32,587.42 514.30,586.70 C522.04,586.14 528.57,584.99 534.90,585.10 C540.33,585.19 545.43,586.11 550.00,586.80 C553.83,587.38 557.14,588.13 560.50,588.80 C563.62,589.43 566.38,590.10 569.50,590.70 C572.86,591.34 576.01,592.13 580.00,592.50 C585.18,592.98 592.63,592.22 598.00,592.80 C602.43,593.28 605.78,594.36 610.00,595.20 C614.72,596.14 619.98,597.40 625.00,598.20 C629.98,599.00 635.02,599.16 640.00,600.00 C645.02,600.85 650.04,601.93 655.00,603.30 C660.04,604.69 664.96,606.96 670.00,608.30 C674.96,609.62 680.67,610.15 685.00,611.30 C688.41,612.21 690.78,613.27 694.00,614.30 C697.71,615.49 702.27,617.01 706.00,618.00 C709.20,618.85 711.77,619.55 715.00,620.00 C718.69,620.51 723.29,620.39 727.00,620.70 C730.22,620.97 733.08,620.82 736.00,621.70 C739.09,622.63 741.67,625.41 745.00,626.30 C748.64,627.27 753.23,625.85 757.10,626.90 C761.11,627.99 764.82,631.46 768.60,632.90 C771.97,634.18 775.25,634.82 778.60,635.40 C781.91,635.98 785.26,635.37 788.60,636.40 C792.39,637.57 796.23,641.15 800.00,642.60 C803.36,643.89 806.59,643.95 810.00,645.00 C813.71,646.14 817.19,647.86 821.40,649.30 C826.52,651.05 833.60,652.24 838.60,654.60 C842.95,656.65 845.89,659.83 850.00,662.10 C854.41,664.53 859.90,667.00 864.30,668.60 C867.88,669.90 871.33,670.11 874.30,671.40 C876.96,672.55 878.68,674.38 881.40,675.70 C884.71,677.30 889.80,678.46 892.90,680.00 C895.20,681.14 896.43,682.67 898.60,683.60 C901.08,684.66 904.59,684.56 907.10,685.70 C909.41,686.76 911.22,688.64 913.20,690.00 C915.05,691.27 916.66,692.55 918.60,693.60 C920.64,694.70 923.44,694.70 925.20,696.40 C927.34,698.47 928.70,701.96 929.70,706.00 C931.20,712.09 930.61,721.75 930.80,730.00 C931.00,738.78 931.06,748.01 930.80,757.20 C930.54,766.67 929.80,777.37 929.20,786.00 C928.71,793.05 928.12,798.67 927.60,805.20 C927.06,811.99 926.35,819.90 926.00,826.00 C925.72,830.78 925.67,834.53 925.50,838.80" fill="none" stroke="#ff2828" stroke-width="1.4" stroke-linejoin="round" stroke-linecap="butt"/>
<path d="M104.10,850.00 C104.80,842.00 105.40,834.57 106.20,826.00 C107.13,816.10 108.29,804.23 109.40,794.00 C110.43,784.56 110.19,773.36 112.60,766.80 C114.17,762.54 116.59,760.15 119.00,757.20 C121.39,754.28 124.15,751.80 127.00,749.20 C130.00,746.46 133.43,744.20 136.60,741.20 C140.10,737.88 142.13,735.05 147.00,730.00 C157.78,718.81 182.70,694.76 200.00,677.00 C217.03,659.52 235.47,636.79 250.00,624.30 C259.60,616.05 267.44,612.59 276.00,606.20 C284.78,599.65 293.17,591.78 302.00,585.40 C310.52,579.25 321.05,573.35 328.00,568.50 C332.83,565.12 336.27,561.92 340.00,559.50 C343.01,557.56 345.29,556.85 348.50,554.80 C353.12,551.86 359.35,547.39 364.70,543.00 C370.46,538.27 376.19,532.07 381.80,527.20 C386.95,522.73 391.36,519.17 397.00,514.80 C403.77,509.55 412.11,503.91 419.80,498.00 C427.93,491.75 437.00,484.10 444.50,478.20 C450.70,473.32 456.05,469.22 461.60,465.00 C466.80,461.04 471.92,457.79 476.80,453.60 C481.86,449.25 486.62,444.08 491.40,439.30 C496.12,434.58 500.38,429.94 505.30,425.10 C510.66,419.83 517.00,413.77 522.40,408.90 C527.06,404.70 531.11,400.74 535.70,397.50 C539.99,394.47 544.77,392.26 549.00,389.90 C552.83,387.76 555.77,386.21 560.00,383.90 C565.76,380.75 574.73,376.25 580.40,372.70 C584.72,370.00 587.87,367.41 591.40,364.90 C594.69,362.56 597.36,360.39 600.90,358.10 C605.08,355.40 609.95,352.27 615.00,349.90 C620.37,347.39 626.74,345.99 632.30,343.60 C637.73,341.27 643.44,338.08 648.00,335.80 C651.53,334.04 653.98,332.49 657.40,331.10 C661.24,329.54 665.99,328.64 670.00,327.10 C673.84,325.62 677.13,323.34 681.00,322.10 C684.99,320.82 689.69,319.88 693.60,319.60 C696.95,319.36 700.19,319.78 703.00,320.10 C705.32,320.36 707.21,321.28 709.30,321.20 C711.41,321.12 713.33,320.68 715.60,319.60 C718.90,318.03 722.92,314.08 726.60,311.40 C730.25,308.75 733.32,305.62 737.60,303.60 C742.52,301.27 749.88,299.38 754.80,298.90 C758.40,298.55 761.53,299.57 764.30,299.60 C766.44,299.62 767.96,299.39 770.00,299.30 C772.37,299.19 775.29,299.47 777.70,299.00 C779.97,298.56 782.05,297.18 784.10,296.70 C785.90,296.28 787.51,295.87 789.30,296.10 C791.35,296.37 793.68,297.78 795.70,298.60 C797.53,299.34 798.95,300.47 800.90,300.80 C803.18,301.19 806.15,300.49 808.60,300.30 C810.83,300.12 812.68,299.90 815.00,299.70 C817.74,299.46 821.95,298.51 824.00,299.00 C825.19,299.29 825.44,300.30 826.60,300.60 C828.44,301.08 831.75,300.09 834.30,300.30 C836.88,300.51 839.44,301.32 842.00,301.90 C844.57,302.48 847.22,302.71 849.70,303.80 C852.37,304.97 854.71,307.95 857.40,308.90 C859.86,309.77 862.68,309.04 865.10,309.60 C867.40,310.14 869.84,310.85 871.60,312.10 C873.21,313.25 873.97,315.15 875.40,316.60 C876.94,318.16 878.45,320.38 880.60,321.10 C883.06,321.92 887.08,319.98 889.60,320.50 C891.61,320.91 893.01,322.15 894.70,323.10 C896.44,324.08 898.02,325.46 899.90,326.30 C901.87,327.18 904.27,327.76 906.30,328.20 C908.08,328.58 909.73,328.08 911.40,328.90 C913.62,329.99 915.89,334.06 917.90,335.30 C919.23,336.13 920.29,336.01 921.70,336.60 C923.58,337.39 926.70,338.11 928.10,339.80 C929.52,341.52 929.49,344.30 930.10,346.90 C930.82,349.98 931.48,353.49 932.00,357.10 C932.58,361.14 933.04,364.80 933.30,370.00 C933.70,377.91 933.32,386.18 933.30,400.00 C933.25,430.90 933.57,509.71 932.80,550.00 C932.28,577.19 931.16,598.45 930.40,618.30 C929.81,633.64 929.27,645.50 928.70,659.10" fill="none" stroke="#08c808" stroke-width="2.4" stroke-linejoin="round" stroke-linecap="butt"/>
<path d="M104.90,883.60 C105.33,869.73 105.57,855.73 106.20,842.00 C106.81,828.53 107.59,812.90 108.60,802.00 C109.30,794.43 109.67,787.59 111.00,782.80 C111.85,779.74 112.83,777.76 114.20,775.60 C115.52,773.51 117.33,772.41 119.00,770.00 C121.50,766.40 123.93,759.85 127.00,755.60 C129.85,751.66 133.22,749.04 136.60,745.20 C140.61,740.65 143.53,736.36 149.40,730.00 C160.51,717.97 183.17,696.59 200.00,680.00 C216.71,663.53 235.75,643.45 250.00,630.80 C259.82,622.09 266.91,616.77 276.00,610.00 C285.50,602.92 296.76,595.95 305.90,589.30 C313.90,583.48 321.79,577.36 328.00,572.40 C332.65,568.69 336.23,565.00 340.00,562.40 C342.98,560.34 345.30,559.71 348.50,557.60 C353.13,554.56 359.35,549.84 364.70,545.30 C370.46,540.41 376.22,534.18 381.80,529.10 C386.97,524.39 391.32,520.40 397.00,515.80 C403.74,510.34 412.10,504.69 419.80,498.70 C427.92,492.38 437.00,484.74 444.50,478.80 C450.70,473.89 456.05,469.74 461.60,465.50 C466.80,461.53 471.92,458.29 476.80,454.10 C481.86,449.75 486.62,444.58 491.40,439.80 C496.12,435.08 500.38,430.44 505.30,425.60 C510.66,420.33 517.00,414.27 522.40,409.40 C527.06,405.20 531.11,401.24 535.70,398.00 C539.99,394.97 544.75,392.71 549.00,390.40 C552.82,388.32 556.45,386.39 560.00,384.70 C563.23,383.16 566.21,382.31 569.40,380.60 C573.00,378.67 576.76,375.98 580.40,373.50 C584.10,370.98 587.81,367.92 591.40,365.60 C594.63,363.51 597.37,361.89 600.90,360.10 C605.09,357.98 611.03,355.97 615.00,353.90 C618.07,352.30 620.15,350.74 622.90,349.10 C625.89,347.32 629.14,345.31 632.30,343.60 C635.41,341.92 638.84,340.06 641.70,338.90 C643.97,337.98 645.53,337.63 648.00,336.90 C651.47,335.87 656.68,334.19 660.60,333.40 C663.94,332.73 666.60,333.02 670.00,332.20 C674.28,331.17 679.80,328.02 684.10,327.10 C687.52,326.37 690.47,326.96 693.60,326.40 C696.77,325.83 699.65,324.73 703.00,323.70 C706.90,322.50 711.80,321.36 715.60,319.60 C719.07,317.99 722.01,315.62 725.00,313.80 C727.72,312.14 730.44,310.05 732.80,309.10 C734.53,308.40 735.85,307.97 737.60,308.00 C739.72,308.04 742.41,309.92 744.60,309.90 C746.55,309.88 748.29,309.20 750.10,308.30 C752.23,307.24 754.17,304.28 756.40,303.60 C758.40,302.99 760.64,303.41 762.70,303.90 C764.85,304.41 766.78,306.47 769.00,306.70 C771.33,306.94 774.06,305.91 776.40,305.10 C778.69,304.30 780.71,302.78 782.90,301.90 C785.01,301.06 787.37,299.56 789.30,299.90 C791.19,300.23 792.49,302.93 794.40,303.80 C796.35,304.68 798.64,305.07 800.90,305.10 C803.35,305.14 805.93,303.93 808.60,303.80 C811.47,303.66 814.86,304.07 817.60,304.40 C819.92,304.68 821.61,305.49 824.00,305.50 C827.03,305.51 831.28,303.74 834.30,303.80 C836.69,303.84 838.63,303.99 840.70,305.10 C843.37,306.54 845.70,311.53 848.40,312.80 C850.49,313.78 852.90,312.92 854.90,313.40 C856.74,313.84 858.21,314.65 860.00,315.40 C862.02,316.25 864.11,317.87 866.40,318.30 C868.80,318.75 871.77,317.15 874.10,317.90 C876.52,318.68 878.18,322.14 880.60,323.10 C882.93,324.02 885.88,322.72 888.30,323.70 C891.06,324.82 893.24,329.10 896.00,330.10 C898.42,330.97 901.24,329.35 903.70,330.10 C906.40,330.93 909.02,333.36 911.40,335.30 C913.75,337.23 915.45,340.19 917.90,341.70 C920.21,343.12 923.66,342.08 925.60,344.30 C928.91,348.08 929.16,359.00 930.10,367.40 C931.21,377.29 930.90,386.67 931.10,400.00 C931.42,421.14 931.34,453.16 931.10,482.00 C930.83,514.22 930.33,554.56 929.40,584.30 C928.68,607.31 927.28,628.06 926.60,645.50 C926.09,658.51 925.87,668.23 925.50,679.60" fill="none" stroke="#fa0000" stroke-width="2.4" stroke-linejoin="round" stroke-linecap="butt"/>
<rect x="1026.3" y="15.1" width="15.5" height="3" fill="#dcdcdc"/>
<rect x="1026.3" y="15.1" width="1.8" height="181.5" fill="#d6d6d6"/>
<rect x="1029" y="18.5" width="11.4" height="178.1" fill="#ff0000"/>
<rect x="1045.6" y="10.9" width="350.2" height="186.4" fill="#fff"/>
<rect x="1047.1999999999998" y="12.5" width="347.0" height="147.6" fill="#f8f8f8"/>
<rect x="1045.6" y="10.9" width="350.2" height="186.4" rx="1.2" fill="none" stroke="#1e1e1e" stroke-width="1.6"/>
<line x1="1045.6" y1="12.9" x2="1045.6" y2="196.3" stroke="#808080" stroke-width="1.6"/>
<line x1="1045.6" y1="69.8" x2="1395.8" y2="69.8" stroke="#1a1a1a" stroke-width="1.5"/>
<line x1="1045.6" y1="125.4" x2="1395.8" y2="125.4" stroke="#1a1a1a" stroke-width="1.5"/>
<line x1="1045.6" y1="160.1" x2="1395.8" y2="160.1" stroke="#111" stroke-width="2"/>
<text transform="translate(1057.90,114.85) scale(0.44,1)" font-size="48.8" stroke="#000" stroke-width="1.1" vector-effect="non-scaling-stroke" textLength="530.5" lengthAdjust="spacing" fill="#000">STOCK VERSION</text><text transform="translate(1059.00,114.85) scale(0.44,1)" font-size="48.8" stroke="#000" stroke-width="1.1" vector-effect="non-scaling-stroke" textLength="530.5" lengthAdjust="spacing" fill="#000">STOCK VERSION</text><text transform="translate(1060.10,114.85) scale(0.44,1)" font-size="48.8" stroke="#000" stroke-width="1.1" vector-effect="non-scaling-stroke" textLength="530.5" lengthAdjust="spacing" fill="#000">STOCK VERSION</text>
<text x="1104" y="141.1" font-size="13" fill="#111" textLength="102.0" lengthAdjust="spacingAndGlyphs">65,0 hp - 6617 giri</text>
<text x="1227.7" y="141.1" font-size="13" fill="#111" textLength="107.2" lengthAdjust="spacingAndGlyphs">8,1 m.kg - 4806 giri</text>
<text x="1140.8" y="180.5" font-size="12.5" font-weight="bold" fill="#111" textLength="33.9" lengthAdjust="spacingAndGlyphs">Ruota</text>
<text x="1305.8" y="180.5" font-size="12.5" font-weight="bold" fill="#111" textLength="45.4" lengthAdjust="spacingAndGlyphs">CE 95/1</text>
<rect x="1026.3" y="209.4" width="15.5" height="3" fill="#dcdcdc"/>
<rect x="1026.3" y="209.4" width="1.8" height="181.6" fill="#d6d6d6"/>
<rect x="1029" y="212.8" width="11.4" height="178.2" fill="#00ff00"/>
<rect x="1045.6" y="205.5" width="350.2" height="185.4" fill="#fff"/>
<rect x="1047.1999999999998" y="207.1" width="347.0" height="146.3" fill="#f8f8f8"/>
<rect x="1045.6" y="205.5" width="350.2" height="185.4" rx="1.2" fill="none" stroke="#1e1e1e" stroke-width="1.6"/>
<line x1="1045.6" y1="207.5" x2="1045.6" y2="389.9" stroke="#3a3a3a" stroke-width="1.6"/>
<line x1="1045.6" y1="263.3" x2="1395.8" y2="263.3" stroke="#1a1a1a" stroke-width="1.5"/>
<line x1="1045.6" y1="319.5" x2="1395.8" y2="319.5" stroke="#1a1a1a" stroke-width="1.5"/>
<line x1="1045.6" y1="353.4" x2="1395.8" y2="353.4" stroke="#111" stroke-width="2"/>
<text transform="translate(1057.90,308.85) scale(0.44,1)" font-size="48.8" stroke="#000" stroke-width="1.1" vector-effect="non-scaling-stroke" textLength="543.4" lengthAdjust="spacing" fill="#000">SPARK EXHAUST</text><text transform="translate(1059.00,308.85) scale(0.44,1)" font-size="48.8" stroke="#000" stroke-width="1.1" vector-effect="non-scaling-stroke" textLength="543.4" lengthAdjust="spacing" fill="#000">SPARK EXHAUST</text><text transform="translate(1060.10,308.85) scale(0.44,1)" font-size="48.8" stroke="#000" stroke-width="1.1" vector-effect="non-scaling-stroke" textLength="543.4" lengthAdjust="spacing" fill="#000">SPARK EXHAUST</text>
<text x="1105.5" y="334.4" font-size="13" fill="#111" textLength="101.8" lengthAdjust="spacingAndGlyphs">65,4 hp - 6611 giri</text>
<text x="1228.5" y="334.4" font-size="13" fill="#111" textLength="107.7" lengthAdjust="spacingAndGlyphs">8,3 m.kg - 2872 giri</text>
<text x="1138" y="373.2" font-size="12.5" font-weight="bold" fill="#111" textLength="34.5" lengthAdjust="spacingAndGlyphs">Ruota</text>
<text x="1309" y="373.2" font-size="12.5" font-weight="bold" fill="#111" textLength="45.4" lengthAdjust="spacingAndGlyphs">CE 95/1</text>
<rect x="1026.3" y="404.2" width="15.5" height="3" fill="#dcdcdc"/>
<rect x="1026.3" y="404.2" width="1.8" height="180.7" fill="#d6d6d6"/>
<rect x="1029" y="407.6" width="11.4" height="177.3" fill="#0338e2"/>
<rect x="1045.6" y="400.9" width="350.2" height="186.4" fill="#fff"/>
<rect x="1047.1999999999998" y="402.5" width="347.0" height="147.7" fill="#f8f8f8"/>
<rect x="1045.6" y="400.9" width="350.2" height="186.4" rx="1.2" fill="none" stroke="#1e1e1e" stroke-width="1.6"/>
<line x1="1045.6" y1="402.9" x2="1045.6" y2="586.3" stroke="#3a3a3a" stroke-width="1.6"/>
<line x1="1045.6" y1="459.8" x2="1395.8" y2="459.8" stroke="#1a1a1a" stroke-width="1.5"/>
<line x1="1045.6" y1="516.5" x2="1395.8" y2="516.5" stroke="#1a1a1a" stroke-width="1.5"/>
<line x1="1045.6" y1="550.2" x2="1395.8" y2="550.2" stroke="#111" stroke-width="2"/>
<text x="1128.6" y="531" font-size="13" fill="#111" textLength="75.2" lengthAdjust="spacingAndGlyphs">0,0 hp - 0 giri</text>
<text x="1225" y="531" font-size="13" fill="#111" textLength="87.6" lengthAdjust="spacingAndGlyphs">0,0 m.kg - 0 giri</text>
<text x="1138" y="571.9" font-size="12.5" font-weight="bold" fill="#111" textLength="34.5" lengthAdjust="spacingAndGlyphs">Ruota</text>
<text x="1309" y="571.9" font-size="12.5" font-weight="bold" fill="#111" textLength="45.4" lengthAdjust="spacingAndGlyphs">CE 95/1</text>
<rect x="1026.3" y="598.4" width="15.5" height="3" fill="#dcdcdc"/>
<rect x="1026.3" y="598.4" width="1.8" height="181.5" fill="#d6d6d6"/>
<rect x="1029" y="601.8" width="11.4" height="178.1" fill="#ffff00"/>
<rect x="1045.6" y="597.2" width="350.2" height="185.4" fill="#fff"/>
<rect x="1047.1999999999998" y="598.8000000000001" width="347.0" height="147.2" fill="#f8f8f8"/>
<rect x="1045.6" y="597.2" width="350.2" height="185.4" rx="1.2" fill="none" stroke="#1e1e1e" stroke-width="1.6"/>
<line x1="1045.6" y1="599.2" x2="1045.6" y2="781.6" stroke="#3a3a3a" stroke-width="1.6"/>
<line x1="1045.6" y1="656.4" x2="1395.8" y2="656.4" stroke="#1a1a1a" stroke-width="1.5"/>
<line x1="1045.6" y1="711.5" x2="1395.8" y2="711.5" stroke="#1a1a1a" stroke-width="1.5"/>
<line x1="1045.6" y1="746" x2="1395.8" y2="746" stroke="#111" stroke-width="2"/>
<text x="1127.8" y="726.7" font-size="13" fill="#111" textLength="74.6" lengthAdjust="spacingAndGlyphs">0,0 hp - 0 giri</text>
<text x="1223.6" y="726.7" font-size="13" fill="#111" textLength="87.7" lengthAdjust="spacingAndGlyphs">0,0 m.kg - 0 giri</text>
<text x="1134.5" y="767.4" font-size="12.5" font-weight="bold" fill="#111" textLength="34.8" lengthAdjust="spacingAndGlyphs">Ruota</text>
<text x="1305" y="767.4" font-size="12.5" font-weight="bold" fill="#111" textLength="45.4" lengthAdjust="spacingAndGlyphs">CE 95/1</text>
<rect x="1026.3" y="792.9" width="15.5" height="3" fill="#dcdcdc"/>
<rect x="1026.3" y="792.9" width="1.8" height="181.2" fill="#d6d6d6"/>
<rect x="1029" y="796.3" width="11.4" height="177.8" fill="#000000"/>
<rect x="1045.6" y="792.8" width="350.2" height="186.7" fill="#fff"/>
<rect x="1047.1999999999998" y="794.4" width="347.0" height="148.5" fill="#f8f8f8"/>
<rect x="1045.6" y="792.8" width="350.2" height="186.7" rx="1.2" fill="none" stroke="#1e1e1e" stroke-width="1.6"/>
<line x1="1045.6" y1="794.8" x2="1045.6" y2="978.5" stroke="#3a3a3a" stroke-width="1.6"/>
<line x1="1045.6" y1="851.9" x2="1395.8" y2="851.9" stroke="#1a1a1a" stroke-width="1.5"/>
<line x1="1045.6" y1="908.4" x2="1395.8" y2="908.4" stroke="#1a1a1a" stroke-width="1.5"/>
<line x1="1045.6" y1="942.9" x2="1395.8" y2="942.9" stroke="#111" stroke-width="2"/>
<text x="1127.8" y="923.3" font-size="13" fill="#111" textLength="74.6" lengthAdjust="spacingAndGlyphs">0,0 hp - 0 giri</text>
<text x="1223.6" y="923.3" font-size="13" fill="#111" textLength="87.7" lengthAdjust="spacingAndGlyphs">0,0 m.kg - 0 giri</text>
<text x="1137.5" y="966.5" font-size="12.5" font-weight="bold" fill="#111" textLength="34.5" lengthAdjust="spacingAndGlyphs">Ruota</text>
<text x="1305.8" y="966.5" font-size="12.5" font-weight="bold" fill="#111" textLength="45.4" lengthAdjust="spacingAndGlyphs">CE 95/1</text>
</svg>
</body></html>
